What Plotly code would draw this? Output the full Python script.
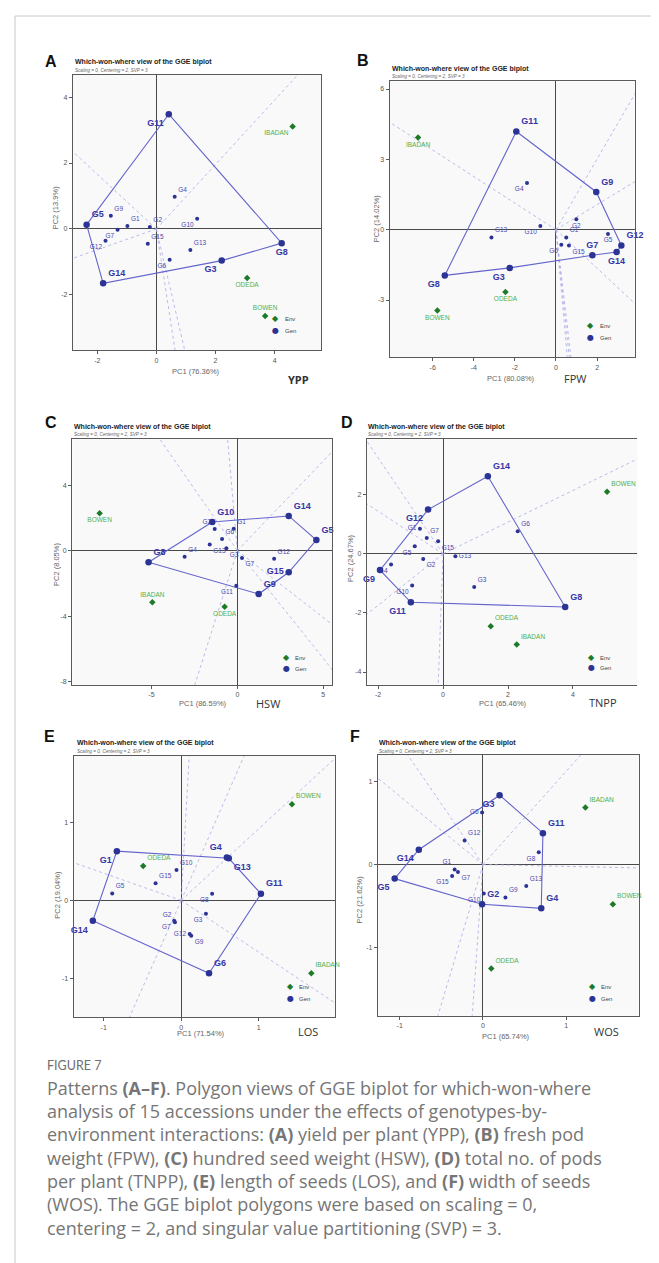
import plotly.graph_objects as go

W, H = 659, 1263

genotypes = ["G1", "G2", "G3", "G4", "G5", "G6", "G7", "G8", "G9", "G10",
             "G11", "G12", "G13", "G14", "G15"]
environments = ["IBADAN", "ODEDA", "BOWEN"]

# ---------------- data (PC1 / PC2 scores) ----------------
ypp_pc1 = [-0.98, -0.22, 2.21, 0.62, -2.36, 0.45, -1.31, 4.24, -1.54, 1.38, 0.42, -1.72, 1.15, -1.80, -0.29]
ypp_pc2 = [0.09, 0.06, -0.96, 0.98, 0.13, -0.93, -0.02, -0.43, 0.40, 0.31, 3.48, -0.36, -0.64, -1.65, -0.45]
ypp_env_pc1 = [4.61, 3.07, 3.68]
ypp_env_pc2 = [3.11, -1.49, -2.64]
ypp_hull = ["G11", "G8", "G3", "G14", "G5"]

fpw_pc1 = [0.50, 0.99, -2.25, -1.41, 2.53, 0.26, 1.77, -5.41, 1.96, -0.76, -1.93, 3.18, -3.14, 2.95, 0.63]
fpw_pc2 = [-0.33, 0.45, -1.63, 1.99, -0.18, -0.64, -1.09, -1.95, 1.61, 0.16, 4.19, -0.67, -0.33, -0.95, -0.67]
fpw_env_pc1 = [-6.71, -2.46, -5.77]
fpw_env_pc2 = [3.93, -2.66, -3.45]
fpw_hull = ["G11", "G9", "G12", "G14", "G7", "G3", "G8"]

hsw_pc1 = [-0.21, -1.32, -0.64, -3.07, 4.60, -0.89, 0.27, -5.17, 1.24, -1.46, -0.06, 2.14, -1.61, 2.99, 2.99]
hsw_pc2 = [1.34, 1.32, 0.14, -0.37, 0.65, 0.71, -0.45, -0.71, -2.65, 1.75, -2.14, -0.49, 0.37, 2.12, -1.32]
hsw_env_pc1 = [-4.95, -0.74, -8.02]
hsw_env_pc2 = [-3.16, -3.42, 2.28]
hsw_hull = ["G10", "G14", "G5", "G15", "G9", "G8"]

tnpp_pc1 = [-0.71, -0.61, 0.96, -1.60, -0.87, 2.30, -0.50, 3.76, -1.94, -0.95, -0.99, -0.46, 0.38, 1.38, -0.15]
tnpp_pc2 = [0.85, -0.17, -1.12, -0.36, 0.26, 0.77, 0.54, -1.80, -0.55, -1.07, -1.64, 1.50, -0.08, 2.63, 0.43]
tnpp_env_pc1 = [2.27, 1.47, 5.05]
tnpp_env_pc2 = [-3.07, -2.45, 2.10]
tnpp_hull = ["G14", "G8", "G11", "G9", "G12"]

los_pc1 = [-0.83, -0.08, 0.32, 0.59, -0.89, 0.36, -0.09, 0.40, 0.13, -0.06, 1.03, 0.11, 0.615, -1.14, -0.33]
los_pc2 = [0.63, -0.28, -0.17, 0.55, 0.09, -0.93, -0.26, 0.085, -0.45, 0.39, 0.085, -0.43, 0.539, -0.26, 0.22]
los_env_pc1 = [1.68, -0.49, 1.43]
los_env_pc2 = [-0.93, 0.44, 1.23]
los_hull = ["G1", "G4", "G13", "G11", "G6", "G14"]

wos_pc1 = [-0.34, -0.01, 0.20, 0.70, -1.06, -0.01, -0.30, 0.67, 0.27, 0.01, 0.72, -0.22, 0.52, -0.77, -0.37]
wos_pc2 = [-0.06, -0.48, 0.84, -0.53, -0.17, 0.63, -0.09, 0.15, -0.40, -0.35, 0.38, 0.29, -0.26, 0.18, -0.14]
wos_env_pc1 = [1.23, 0.10, 1.56]
wos_env_pc2 = [0.69, -1.26, -0.48]
wos_hull = ["G3", "G11", "G4", "G2", "G5", "G14"]

panel_letters = ["A", "B", "C", "D", "E", "F"]
traits = ["YPP", "FPW", "HSW", "TNPP", "LOS", "WOS"]
pc1_labels = ["PC1 (76.36%)", "PC1 (80.08%)", "PC1 (86.59%)", "PC1 (65.46%)", "PC1 (71.54%)", "PC1 (65.74%)"]
pc2_labels = ["PC2 (13.9%)", "PC2 (14.02%)", "PC2 (8.05%)", "PC2 (24.67%)", "PC2 (19.04%)", "PC2 (21.62%)"]
x_ticks = [[-2, 0, 2, 4], [-6, -4, -2, 0, 2], [-5, 0, 5], [-2, 0, 2, 4], [-1, 0, 1], [-1, 0, 1]]
y_ticks = [[-2, 0, 2, 4], [-3, 0, 3, 6], [-8, -4, 0, 4], [-4, -2, 0, 2], [-1, 0, 1], [-1, 0, 1]]

plot_title = "Which-won-where view of the GGE biplot"
plot_subtitle = "Scaling = 0, Centering = 2, SVP = 3"

caption_head = "FIGURE 7"
caption_lines = [
    "Patterns <b>(A\u2013F)</b>. Polygon views of GGE biplot for which-won-where",
    "analysis of 15 accessions under the effects of genotypes-by-",
    "environment interactions: <b>(A)</b> yield per plant (YPP), <b>(B)</b> fresh pod",
    "weight (FPW), <b>(C)</b> hundred seed weight (HSW), <b>(D)</b> total no. of pods",
    "per plant (TNPP), <b>(E)</b> length of seeds (LOS), and <b>(F)</b> width of seeds",
    "(WOS). The GGE biplot polygons were based on scaling = 0,",
    "centering = 2, and singular value partitioning (SVP) = 3.",
]

series = [
    (ypp_pc1, ypp_pc2, ypp_env_pc1, ypp_env_pc2, ypp_hull),
    (fpw_pc1, fpw_pc2, fpw_env_pc1, fpw_env_pc2, fpw_hull),
    (hsw_pc1, hsw_pc2, hsw_env_pc1, hsw_env_pc2, hsw_hull),
    (tnpp_pc1, tnpp_pc2, tnpp_env_pc1, tnpp_env_pc2, tnpp_hull),
    (los_pc1, los_pc2, los_env_pc1, los_env_pc2, los_hull),
    (wos_pc1, wos_pc2, wos_env_pc1, wos_env_pc2, wos_hull),
]

# ---------------- layout / style (pixel positions in the 659x1263 page) ----------------
TR, TL, BR, BL = "top right", "top left", "bottom right", "bottom left"
TC, BC, MR, ML = "top center", "bottom center", "middle right", "middle left"

styles = [
    dict(frame=(65, 67, 313.3, 342.3), xr=(-2.82, 5.58), yr=(-3.68, 4.67),
         letter=(43.3, 53.3), title=(65, 54.5), sub=(65, 62.5), xt=(188.3, 363), yt=(48.3, 200),
         trait=(290, 371.7), trait_bold=True, leg=(267.7, 310.7, 322.7), mirror_y=True,
         pos={"G11": BL, "G8": BC, "G3": BL, "G14": TR, "G5": TR, "G6": BL, "G7": BL,
              "G10": BL, "G12": BL, "IBADAN": BL, "ODEDA": BC, "BOWEN": TC}),
    dict(frame=(381.7, 73.3, 626.7, 349), xr=(-8.09, 3.83), yr=(-5.43, 6.33),
         letter=(355, 52.7), title=(381.7, 60.7), sub=(381.7, 69), xt=(503.3, 370), yt=(368.3, 210),
         trait=(566.7, 370), trait_bold=False, leg=(582.7, 317.3, 329.3), mirror_y=True,
         pos={"G14": BC, "G3": BL, "G8": BL, "G7": TC, "G2": BC, "G4": BL, "G5": BC, "G6": BL,
              "G10": BL, "G15": BR, "IBADAN": BC, "ODEDA": BC, "BOWEN": BC}),
    dict(frame=(64.3, 430.7, 324, 676.7), xr=(-9.61, 5.51), yr=(-8.19, 6.84),
         letter=(43.3, 414.3), title=(64.3, 419), sub=(64.3, 426.7), xt=(195, 695.7), yt=(48.3, 556.7),
         trait=(260, 695), trait_bold=False, leg=(278.3, 649.3, 660), mirror_y=True,
         pos={"G15": ML, "G2": TL, "G3": BR, "G7": BR, "G11": BL, "G13": BR,
              "BOWEN": BC, "IBADAN": TC, "ODEDA": BC}),
    dict(frame=(359, 430.7, 629.3, 676.7), xr=(-2.34, 5.98), yr=(-4.43, 3.90),
         letter=(339, 414.3), title=(358.3, 419), sub=(358.3, 426.7), xt=(495, 695), yt=(342, 550),
         trait=(595, 694.3), trait_bold=False, leg=(583.3, 649, 659.7), mirror_y=False,
         pos={"G12": BL, "G9": BL, "G11": BL, "G1": ML, "G2": BR, "G4": BL, "G5": BL,
              "G10": BL, "G13": MR, "G15": BR}),
    dict(frame=(65.7, 747.7, 327.3, 1009), xr=(-1.387, 1.99), yr=(-1.49, 1.85),
         letter=(41.7, 728.3), title=(66.7, 735), sub=(66.7, 743.3), xt=(193.3, 1025), yt=(50, 886.7),
         trait=(300, 1023.3), trait_bold=False, leg=(282.3, 978.7, 990.7), mirror_y=True,
         pos={"G1": BL, "G4": TL, "G13": BR, "G14": BL, "G2": TL, "G3": BL, "G7": BL,
              "G8": BL, "G9": BR, "G12": ML}),
    dict(frame=(370, 746.7, 630.7, 1007.7), xr=(-1.26, 1.87), yr=(-1.83, 1.33),
         letter=(346.7, 728.3), title=(369.3, 735), sub=(369.3, 743.3), xt=(498.3, 1028.3), yt=(351.7, 891.7),
         trait=(598.3, 1023.3), trait_bold=False, leg=(584.3, 978.7, 990.7), mirror_y=True,
         pos={"G3": BL, "G5": BL, "G14": BL, "G1": TL, "G6": ML, "G7": BR, "G8": BL,
              "G10": BL, "G15": BL}),
]

GEN_DOT = "#2b3394"
GEN_TXT = "#4848b0"
POLY = "#6464cc"
RAY = "#a9a9e8"
ENV_DOT = "#1d7a26"
ENV_TXT = "#4fb04f"
FRAME = "#5a5a5a"
FONT = "Liberation Sans, Arial, sans-serif"


def PX(x):
    return x / W


def PY(y):
    return 1 - y / H


fig = go.Figure()
annotations = []
layout = {}

for i, ((g1, g2, e1, e2, hull), s) in enumerate(zip(series, styles), start=1):
    xa = "x" if i == 1 else f"x{i}"
    ya = "y" if i == 1 else f"y{i}"
    common = dict(xaxis=xa, yaxis=ya, showlegend=False, hoverinfo="skip")
    idx = {g: k for k, g in enumerate(genotypes)}
    hx = [g1[idx[g]] for g in hull]
    hy = [g2[idx[g]] for g in hull]

    # perpendicular rays from the origin to each polygon side
    rx, ry = [], []
    n = len(hull)
    for k in range(n):
        x1, y1 = hx[k], hy[k]
        x2, y2 = hx[(k + 1) % n], hy[(k + 1) % n]
        dx, dy = x2 - x1, y2 - y1
        tp = -(x1 * dx + y1 * dy) / (dx * dx + dy * dy)
        fx, fy = x1 + tp * dx, y1 + tp * dy
        nrm = (fx * fx + fy * fy) ** 0.5
        L = 60.0
        rx += [0, fx / nrm * L, None]
        ry += [0, fy / nrm * L, None]
    fig.add_trace(go.Scatter(x=rx, y=ry, mode="lines",
                             line=dict(color=RAY, width=0.8, dash="dot"), **common))

    # polygon
    fig.add_trace(go.Scatter(x=hx + [hx[0]], y=hy + [hy[0]], mode="lines",
                             line=dict(color=POLY, width=1.1), **common))

    pos = s["pos"]
    # inner genotypes
    small = [g for g in genotypes if g not in hull]
    fig.add_trace(go.Scatter(
        x=[g1[idx[g]] for g in small], y=[g2[idx[g]] for g in small],
        mode="markers+text", text=small,
        textposition=[pos.get(g, TR) for g in small],
        textfont=dict(family=FONT, size=6.5, color=GEN_TXT),
        marker=dict(color=GEN_DOT, size=4), cliponaxis=False, **common))

    # vertex genotypes
    fig.add_trace(go.Scatter(
        x=hx, y=hy, mode="markers+text", text=["<b>%s</b>" % g for g in hull],
        textposition=[pos.get(g, TR) for g in hull],
        textfont=dict(family=FONT, size=9, color="#3636a6"),
        marker=dict(color=GEN_DOT, size=6.5), cliponaxis=False, **common))

    # environments
    fig.add_trace(go.Scatter(
        x=e1, y=e2, mode="markers+text", text=environments,
        textposition=[pos.get(e, TR) for e in environments],
        textfont=dict(family=FONT, size=6.5, color=ENV_TXT),
        marker=dict(color=ENV_DOT, size=5, symbol="diamond"), cliponaxis=False, **common))

    l, t, r, b = s["frame"]
    xkey = "xaxis" if i == 1 else f"xaxis{i}"
    ykey = "yaxis" if i == 1 else f"yaxis{i}"
    layout[xkey] = dict(domain=[PX(l), PX(r)], range=list(s["xr"]), anchor=ya,
                        showline=True, mirror=True, linecolor=FRAME, linewidth=1.3,
                        ticks="outside", ticklen=3, tickcolor=FRAME, tickwidth=1,
                        tickvals=x_ticks[i - 1], ticktext=[str(v) for v in x_ticks[i - 1]],
                        tickfont=dict(family=FONT, size=7, color="#555"),
                        showgrid=False, zeroline=True, zerolinecolor="#4a4a4a", zerolinewidth=1,
                        fixedrange=True)
    layout[ykey] = dict(domain=[PY(b), PY(t)], range=list(s["yr"]), anchor=xa,
                        showline=True, mirror=s["mirror_y"], linecolor=FRAME, linewidth=1.3,
                        ticks="outside", ticklen=3, tickcolor=FRAME, tickwidth=1,
                        tickvals=y_ticks[i - 1], ticktext=[str(v) for v in y_ticks[i - 1]],
                        tickfont=dict(family=FONT, size=7, color="#555"),
                        showgrid=False, zeroline=True, zerolinecolor="#4a4a4a", zerolinewidth=1,
                        fixedrange=True)

    def ann(text, x, y, size, color, xanchor="center", angle=0, family=FONT):
        annotations.append(dict(text=text, x=PX(x), y=PY(y), xref="paper", yref="paper",
                                xanchor=xanchor, yanchor="middle", showarrow=False,
                                textangle=angle, font=dict(family=family, size=size, color=color)))

    ann("<b>%s</b>" % panel_letters[i - 1], s["letter"][0], s["letter"][1], 16, "#111")
    ann("<b>%s</b>" % plot_title, s["title"][0], s["title"][1], 7, "#222", xanchor="left")
    ann("<i>%s</i>" % plot_subtitle, s["sub"][0], s["sub"][1], 4.6, "#666", xanchor="left")
    ann(pc1_labels[i - 1], s["xt"][0], s["xt"][1], 7.5, "#666")
    ann(pc2_labels[i - 1], s["yt"][0], s["yt"][1], 7.5, "#666", angle=-90)
    tr = traits[i - 1]
    ann("<b>%s</b>" % tr if s["trait_bold"] else tr, s["trait"][0], s["trait"][1], 11, "#333",
        family="Open Sans, sans-serif")
    lx, ly1, ly2 = s["leg"]
    ann("\u25C6", lx, ly1, 8, ENV_DOT, family="DejaVu Sans")
    ann("\u25CF", lx, ly2, 8, GEN_DOT, family="DejaVu Sans")
    ann("Env", lx + 7, ly1 + 0.5, 6, "#444", xanchor="left")
    ann("Gen", lx + 7, ly2 + 0.5, 6, "#444", xanchor="left")

# caption
annotations.append(dict(text=caption_head, x=PX(37), y=PY(1057), xref="paper", yref="paper",
                        xanchor="left", yanchor="middle", showarrow=False,
                        font=dict(family="Lato, sans-serif", size=12.5, color="#6e6e6e")))
for k, line in enumerate(caption_lines):
    annotations.append(dict(text=line, x=PX(37), y=PY(1079.5 + 23.35 * k), xref="paper", yref="paper",
                            xanchor="left", yanchor="middle", showarrow=False,
                            font=dict(family="Open Sans, sans-serif", size=18, color="#767676")))

shapes = [dict(type="rect", xref="paper", yref="paper", x0=PX(7), x1=PX(720), y0=PY(1300), y1=PY(8),
               line=dict(color="#c8c8c8", width=1), fillcolor="rgba(0,0,0,0)", layer="below")]

fig.update_layout(width=W, height=H, autosize=False,
                  margin=dict(l=0, r=0, t=0, b=0),
                  paper_bgcolor="white", plot_bgcolor="#f9f9f9",
                  annotations=annotations, shapes=shapes, **layout)

fig.write_html("out.html")
